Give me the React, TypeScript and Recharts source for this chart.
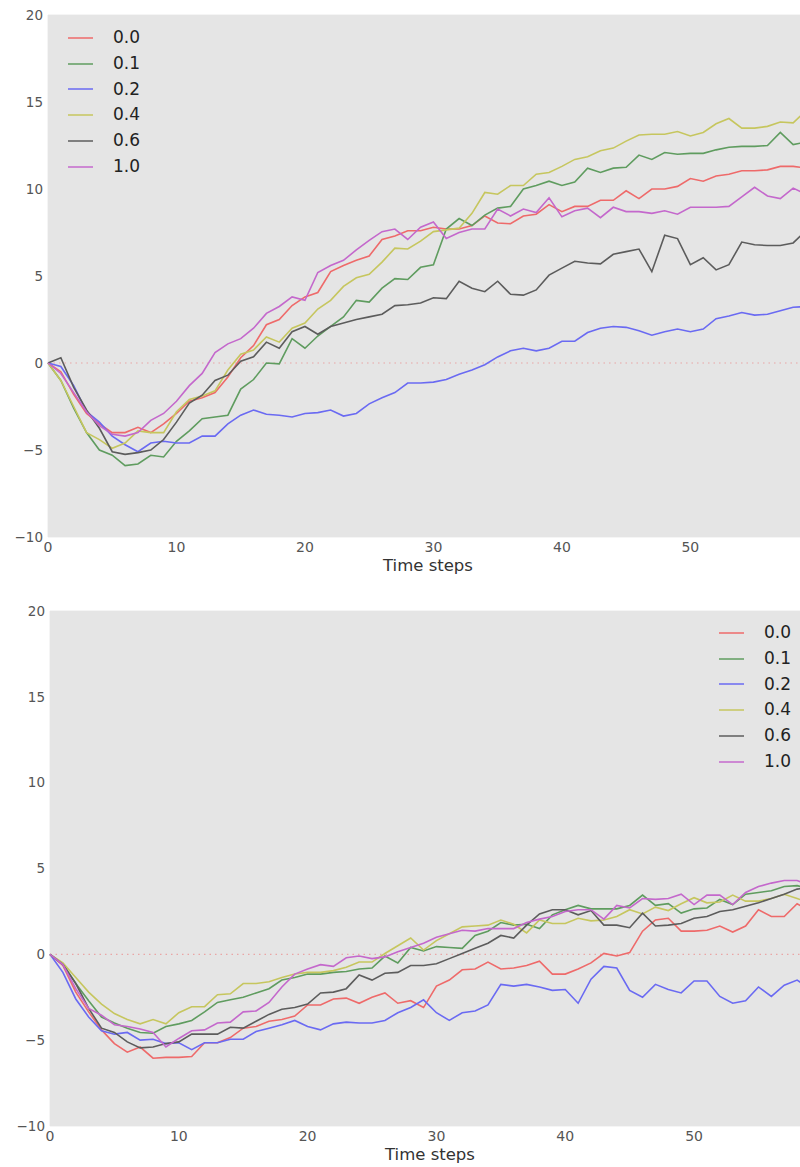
import React from 'react';
import { LineChart, Line, XAxis, YAxis, CartesianGrid, ReferenceLine, Legend } from 'recharts';

// Time steps 0..59
const steps = [
  0, 1, 2, 3, 4, 5, 6, 7, 8, 9, 10, 11, 12, 13, 14, 15, 16, 17, 18, 19,
  20, 21, 22, 23, 24, 25, 26, 27, 28, 29, 30, 31, 32, 33, 34, 35, 36, 37, 38, 39,
  40, 41, 42, 43, 44, 45, 46, 47, 48, 49, 50, 51, 52, 53, 54, 55, 56, 57, 58, 59,
];

const seriesNames = ['0.0', '0.1', '0.2', '0.4', '0.6', '1.0'];
const seriesColors = ['#ee6a6a', '#5f9c5f', '#6a6af2', '#c6c65e', '#5c5c5c', '#c468cc'];

const xTicks = [0, 10, 20, 30, 40, 50];
const yTicks = [-10, -5, 0, 5, 10, 15, 20];

// ---------- top chart ----------
const top00 = [
  0, -0.5, -1.8, -2.9, -3.5, -4.0, -4.0, -3.7, -4.0, -3.5,
  -2.9, -2.2, -2.0, -1.7, -0.8, 0.3, 1.0, 2.2, 2.5, 3.3,
  3.8, 4.05, 5.25, 5.6, 5.9, 6.15, 7.1, 7.3, 7.6, 7.6,
  7.8, 7.7, 7.7, 7.9, 8.45, 8.05, 8.0, 8.45, 8.55, 9.1,
  8.7, 9.0, 9.0, 9.35, 9.35, 9.9, 9.45, 10.0, 10.0, 10.15,
  10.6, 10.45, 10.75, 10.85, 11.05, 11.05, 11.1, 11.3, 11.3, 11.2,
];
const top01 = [
  0, -1.0, -2.6, -4.0, -5.0, -5.3, -5.9, -5.8, -5.3, -5.4,
  -4.5, -3.9, -3.2, -3.1, -3.0, -1.5, -0.95, 0.0, -0.05, 1.4,
  0.85, 1.55, 2.1, 2.65, 3.6, 3.5, 4.3, 4.85, 4.8, 5.5,
  5.65, 7.7, 8.3, 7.9, 8.5, 8.9, 9.0, 10.0, 10.2, 10.45,
  10.2, 10.4, 11.2, 10.95, 11.2, 11.25, 11.95, 11.7, 12.1, 12.0,
  12.05, 12.05, 12.25, 12.4, 12.45, 12.45, 12.5, 13.25, 12.55, 12.7,
];
const top02 = [
  0, -0.2, -1.3, -2.8, -3.4, -4.2, -4.7, -5.1, -4.6, -4.5,
  -4.6, -4.6, -4.2, -4.2, -3.5, -3.0, -2.7, -2.95, -3.0, -3.1,
  -2.9, -2.85, -2.7, -3.05, -2.9, -2.35, -2.0, -1.7, -1.15, -1.15,
  -1.1, -0.95, -0.65, -0.4, -0.1, 0.35, 0.7, 0.85, 0.7, 0.85,
  1.25, 1.25, 1.75, 2.0, 2.1, 2.05, 1.85, 1.6, 1.8, 1.95,
  1.8, 1.95, 2.55, 2.7, 2.9, 2.75, 2.8, 3.0, 3.2, 3.25,
];
const top04 = [
  0, -1.0, -2.5, -4.0, -4.4, -4.9, -4.6, -3.9, -4.0, -4.0,
  -2.8, -2.1, -1.9, -1.6, -0.4, 0.5, 0.75, 1.5, 1.2, 2.0,
  2.3, 3.1, 3.6, 4.4, 4.9, 5.1, 5.8, 6.6, 6.55, 7.0,
  7.55, 7.65, 7.75, 8.6, 9.8, 9.7, 10.2, 10.2, 10.85, 10.95,
  11.3, 11.7, 11.85, 12.2, 12.35, 12.75, 13.1, 13.15, 13.15, 13.3,
  13.05, 13.25, 13.75, 14.05, 13.5, 13.5, 13.6, 13.85, 13.8, 14.5,
];
const top06 = [
  0, 0.3, -1.4, -2.7, -3.75, -5.1, -5.25, -5.15, -5.0, -4.4,
  -3.4, -2.3, -1.85, -1.0, -0.7, 0.1, 0.36, 1.2, 0.85, 1.8,
  2.1, 1.65, 2.1, 2.3, 2.5, 2.65, 2.8, 3.3, 3.35, 3.45,
  3.75, 3.7, 4.7, 4.3, 4.1, 4.7, 3.95, 3.9, 4.2, 5.05,
  5.45, 5.85, 5.75, 5.7, 6.25, 6.4, 6.55, 5.25, 7.35, 7.15,
  5.65, 6.05, 5.35, 5.65, 6.95, 6.8, 6.75, 6.75, 6.9, 7.6,
];
const top10 = [
  0, -0.6, -1.7, -2.8, -3.6, -4.1, -4.2, -4.0, -3.3, -2.9,
  -2.2, -1.3, -0.6, 0.6, 1.1, 1.4, 2.0, 2.85, 3.25, 3.8,
  3.6, 5.2, 5.6, 5.9, 6.5, 7.05, 7.55, 7.7, 7.1, 7.8,
  8.1, 7.15, 7.5, 7.7, 7.7, 8.85, 8.45, 8.85, 8.65, 9.5,
  8.4, 8.75, 8.9, 8.35, 8.95, 8.7, 8.7, 8.6, 8.75, 8.55,
  8.95, 8.95, 8.95, 9.0, 9.55, 10.1, 9.6, 9.45, 10.05, 9.7,
];

// ---------- bottom chart ----------
const bot00 = [
  0, -0.65, -2.2, -3.35, -4.4, -5.2, -5.7, -5.4, -6.05, -6.0,
  -6.0, -5.95, -5.15, -5.15, -4.85, -4.3, -4.2, -3.9, -3.8, -3.6,
  -2.95, -2.95, -2.6, -2.55, -2.85, -2.5, -2.25, -2.85, -2.7, -3.1,
  -1.85, -1.5, -0.9, -0.85, -0.45, -0.85, -0.8, -0.65, -0.4, -1.15,
  -1.15, -0.85, -0.5, 0.05, -0.1, 0.1, 1.35, 2.0, 2.1, 1.35,
  1.35, 1.4, 1.65, 1.3, 1.65, 2.6, 2.2, 2.2, 2.95, 2.5,
];
const bot01 = [
  0, -0.55, -1.7, -2.7, -3.65, -4.0, -4.3, -4.55, -4.6, -4.2,
  -4.05, -3.85, -3.35, -2.8, -2.65, -2.5, -2.25, -2.0, -1.5, -1.35,
  -1.15, -1.15, -1.05, -1.0, -0.85, -0.8, -0.1, -0.5, 0.4, 0.2,
  0.45, 0.4, 0.35, 1.1, 1.35, 1.85, 1.7, 1.75, 1.5, 2.3,
  2.6, 2.85, 2.65, 2.65, 2.65, 2.85, 3.45, 2.85, 2.95, 2.4,
  2.65, 2.7, 3.2, 2.9, 3.5, 3.6, 3.7, 3.95, 4.0, 3.8,
];
const bot02 = [
  0, -1.05, -2.6, -3.65, -4.45, -4.65, -4.55, -5.0, -4.95, -5.2,
  -5.15, -5.55, -5.15, -5.15, -4.95, -4.95, -4.5, -4.3, -4.1, -3.85,
  -4.2, -4.4, -4.05, -3.95, -4.0, -4.0, -3.85, -3.4, -3.1, -2.65,
  -3.4, -3.85, -3.4, -3.3, -2.95, -1.75, -1.85, -1.75, -1.9, -2.1,
  -2.05, -2.85, -1.45, -0.7, -0.8, -2.1, -2.5, -1.75, -2.05, -2.25,
  -1.55, -1.55, -2.45, -2.85, -2.7, -1.9, -2.45, -1.8, -1.5, -2.0,
];
const bot04 = [
  0, -0.5, -1.35, -2.2, -2.9, -3.45, -3.8, -4.05, -3.8, -4.05,
  -3.4, -3.05, -3.05, -2.35, -2.3, -1.7, -1.7, -1.6, -1.35, -1.15,
  -1.05, -1.05, -0.95, -0.75, -0.45, -0.45, 0.05, 0.5, 0.95, 0.25,
  0.8, 1.2, 1.6, 1.65, 1.7, 2.0, 1.75, 1.25, 2.0, 1.8,
  1.8, 2.1, 1.95, 2.0, 2.2, 2.6, 2.35, 2.75, 2.55, 2.95,
  3.3, 3.0, 3.05, 3.45, 3.1, 3.1, 3.25, 3.5, 3.25, 3.0,
];
const bot06 = [
  0, -0.6, -1.7, -3.15, -4.3, -4.55, -5.1, -5.45, -5.4, -5.2,
  -5.1, -4.65, -4.65, -4.65, -4.25, -4.3, -3.9, -3.5, -3.2, -3.1,
  -2.9, -2.25, -2.2, -2.0, -1.2, -1.5, -1.1, -1.05, -0.65, -0.65,
  -0.55, -0.25, 0.05, 0.35, 0.65, 1.1, 0.95, 1.7, 2.35, 2.6,
  2.6, 2.3, 2.55, 1.7, 1.7, 1.55, 2.4, 1.65, 1.7, 1.8,
  2.1, 2.2, 2.5, 2.6, 2.8, 3.0, 3.25, 3.5, 3.8, 3.9,
];
const bot10 = [
  0, -0.6, -2.0, -3.15, -3.55, -4.1, -4.2, -4.35, -4.55, -5.4,
  -4.9, -4.45, -4.4, -4.0, -3.95, -3.35, -3.3, -2.8, -1.9, -1.15,
  -0.85, -0.6, -0.7, -0.2, -0.1, -0.25, -0.15, 0.15, 0.4, 0.65,
  1.0, 1.2, 1.4, 1.35, 1.5, 1.5, 1.5, 1.85, 2.05, 2.2,
  2.5, 2.6, 2.6, 2.05, 2.85, 2.7, 3.25, 3.2, 3.25, 3.5,
  2.9, 3.45, 3.45, 2.9, 3.6, 3.95, 4.15, 4.3, 4.3, 4.0,
];

const topSeries = [top00, top01, top02, top04, top06, top10];
const botSeries = [bot00, bot01, bot02, bot04, bot06, bot10];

const keys = ['s0', 's1', 's2', 's3', 's4', 's5'];

function buildRows(series: number[][]) {
  return steps.map((t, i) => {
    const row: Record<string, number> = { t };
    series.forEach((s, k) => {
      row[keys[k]] = s[i];
    });
    return row;
  });
}

const topRows = buildRows(topSeries);
const botRows = buildRows(botSeries);

const FONT = '"DejaVu Sans", sans-serif';

const fmtY = (v: number) => (v < 0 ? '\u2212' + Math.abs(v) : String(v));

const LegendBox = () => (
  <div style={{ fontFamily: FONT, fontSize: 17, color: '#222', paddingLeft: 12 }}>
    {seriesNames.map((n, i) => (
      <div key={n} style={{ display: 'flex', alignItems: 'center', height: 25.8 }}>
        <svg width={25} height={4} style={{ display: 'block' }}>
          <line x1={0} y1={2} x2={25} y2={2} stroke={seriesColors[i]} strokeWidth={1.5} />
        </svg>
        <span style={{ marginLeft: 20, lineHeight: '25.8px' }}>{n}</span>
      </div>
    ))}
  </div>
);

type PanelProps = {
  rows: Record<string, number>[];
  width: number;
  height: number;
  xAxisHeight: number;
  legendLeft: number;
  legendTop: number;
};

const Panel = ({ rows, width, height, xAxisHeight, legendLeft, legendTop }: PanelProps) => (
  <LineChart width={width} height={height} data={rows} margin={{ top: 15, right: 0, bottom: 0, left: 0 }}>
    <rect x={48} y={15} width={width - 48} height={height - 15 - xAxisHeight} fill="#e5e5e5" />
    <CartesianGrid stroke="#ebebeb" strokeWidth={1} fill="#e5e5e5" />
    <XAxis
      type="number"
      dataKey="t"
      domain={[0, 59]}
      ticks={xTicks}
      axisLine={false}
      tickLine={false}
      tickSize={0}
      tickMargin={5}
      height={xAxisHeight}
      tick={{ fill: '#555', fontSize: 14, fontFamily: FONT }}
      label={(props: any) => {
        const vb = props.viewBox || {};
        return (
          <text
            x={(vb.x || 0) + 380}
            y={(vb.y || 0) + 34}
            textAnchor="middle"
            fill="#333"
            fontSize={16.5}
            fontFamily={FONT}
          >
            Time steps
          </text>
        );
      }}
    />
    <YAxis
      type="number"
      domain={[-10, 20]}
      ticks={yTicks}
      width={48}
      axisLine={false}
      tickLine={false}
      tickSize={0}
      tickMargin={5}
      tickFormatter={fmtY}
      tick={{ fill: '#555', fontSize: 13.5, fontFamily: FONT }}
    />
    <ReferenceLine y={0} stroke="#eaa5a5" strokeDasharray="1.5 4" strokeWidth={1.2} />
    {keys.map((k, i) => (
      <Line
        key={k}
        type="linear"
        dataKey={k}
        name={seriesNames[i]}
        stroke={seriesColors[i]}
        strokeWidth={1.6}
        dot={false}
        activeDot={false}
        isAnimationActive={false}
      />
    ))}
    <Legend
      layout="horizontal"
      verticalAlign="middle"
      align="center"
      wrapperStyle={{ left: legendLeft, top: legendTop, width: 100, height: 160 }}
      content={() => <LegendBox />}
    />
  </LineChart>
);

export default function App() {
  return (
    <div
      style={{
        position: 'absolute',
        left: 0,
        top: 0,
        width: 800,
        height: 1167,
        overflow: 'hidden',
        background: '#ffffff',
      }}
    >
      <div style={{ position: 'absolute', left: 0, top: 0 }}>
        <Panel rows={topRows} width={806} height={580} xAxisHeight={43} legendLeft={56} legendTop={25} />
      </div>
      <div style={{ position: 'absolute', left: 2, top: 596 }}>
        <Panel rows={botRows} width={808} height={574} xAxisHeight={44} legendLeft={705} legendTop={24} />
      </div>
    </div>
  );
}
